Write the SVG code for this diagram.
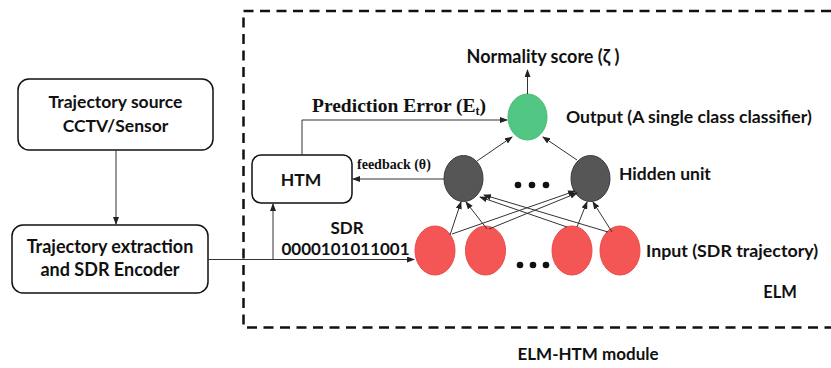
<svg xmlns="http://www.w3.org/2000/svg" width="831" height="368" viewBox="0 0 831 368">
<defs>
<marker id="ah" markerWidth="8" markerHeight="6" refX="7" refY="3" orient="auto" markerUnits="userSpaceOnUse">
<path d="M0,0 L8,3 L0,6 z" fill="#222"/>
</marker>
<style>
.box{fill:#fff;stroke:#111;stroke-width:1.5}
.lbl{font-family:Lato,"Liberation Sans",sans-serif;font-weight:bold;fill:#111}
.ser{font-family:"Liberation Serif","DejaVu Serif",serif;font-weight:bold;fill:#111}
.ln{fill:none;stroke:#333;stroke-width:1}
.arr{fill:none;stroke:#333;stroke-width:1;marker-end:url(#ah)}
.in{fill:#F45656;stroke:#ec4a4a;stroke-width:1}
.hid{fill:#565656;stroke:#3a3a3a;stroke-width:1}
.out{fill:#52C683;stroke:#48b877;stroke-width:1}
.dot{fill:#111}
</style>
</defs>
<rect width="831" height="368" fill="#fff"/>
<g id="module">
<path d="M831,11 H243.5 V327.5 H831" fill="none" stroke="#111" stroke-width="2.5" stroke-dasharray="10 6.5"/>
<text class="lbl" x="780" y="298" font-size="16.5" text-anchor="middle">ELM</text>
<text class="lbl" x="588" y="360" font-size="17" text-anchor="middle">ELM-HTM module</text>
</g>
<g id="source">
<rect class="box" x="18" y="79" width="195" height="71" rx="11"/>
<text class="lbl" x="115.5" y="108" font-size="17.5" text-anchor="middle">Trajectory source</text>
<text class="lbl" x="115.5" y="132" font-size="17.5" text-anchor="middle">CCTV/Sensor</text>
</g>
<g id="encoder">
<rect class="box" x="12" y="225" width="196" height="68" rx="11"/>
<text class="lbl" x="110" y="253" font-size="18" text-anchor="middle">Trajectory extraction</text>
<text class="lbl" x="110" y="276" font-size="18" text-anchor="middle">and SDR Encoder</text>
</g>
<g id="htm">
<rect class="box" x="252" y="155" width="100" height="48" rx="9"/>
<text class="lbl" x="301" y="186" font-size="17.5" text-anchor="middle">HTM</text>
</g>
<g id="output">
<ellipse class="out" cx="527.5" cy="117" rx="19.5" ry="23"/>
<text class="lbl" x="566" y="123" font-size="17.6">Output (A single class classifier)</text>
<text class="lbl" x="543" y="63" font-size="18" text-anchor="middle">Normality score (ζ )</text>
</g>
<g id="hidden">
<ellipse class="hid" cx="463.5" cy="178.5" rx="19.5" ry="23"/>
<ellipse class="hid" cx="590.5" cy="178.5" rx="19.5" ry="23"/>
<circle class="dot" cx="518" cy="185" r="3.3"/>
<circle class="dot" cx="532" cy="185" r="3.3"/>
<circle class="dot" cx="546" cy="185" r="3.3"/>
<text class="lbl" x="619" y="180" font-size="17.5">Hidden unit</text>
</g>
<g id="input">
<ellipse class="in" cx="435" cy="250.5" rx="20" ry="24.5"/>
<ellipse class="in" cx="485.5" cy="250.5" rx="20" ry="24.5"/>
<ellipse class="in" cx="572" cy="250.5" rx="20" ry="24.5"/>
<ellipse class="in" cx="620" cy="250.5" rx="20" ry="24.5"/>
<circle class="dot" cx="520" cy="265" r="3.3"/>
<circle class="dot" cx="533" cy="265" r="3.3"/>
<circle class="dot" cx="546" cy="265" r="3.3"/>
<text class="lbl" x="646" y="257" font-size="17.8">Input (SDR trajectory)</text>
</g>
<g id="connectors">
<path class="arr" d="M116,150 V224"/>
<path class="ln" d="M208,259.5 H273"/>
<path class="arr" d="M273,259.5 H414"/>
<path class="arr" d="M273,259.5 V204"/>
<path class="arr" d="M302,155 V120 H507"/>
<path class="arr" d="M444,179 H353"/>
<path class="arr" d="M527.5,94 V70"/>
<path class="arr" d="M477,161 L512,137"/>
<path class="arr" d="M577,160 L543,137"/>
<path class="arr" d="M450,235 L461,202"/>
<path class="arr" d="M452,234 L575,191"/>
<path class="arr" d="M487,229 L466,202"/>
<path class="arr" d="M489,229 L577,193"/>
<path class="arr" d="M567,227 L480,197"/>
<path class="arr" d="M577,227 L587,202"/>
<path class="arr" d="M608,232 L484,195"/>
<path class="arr" d="M612,232 L593,202"/>
<text class="ser" x="312" y="112" font-size="19.5">Prediction Error (E<tspan font-size="12" dy="3">t</tspan><tspan dy="-3">)</tspan></text>
<text class="ser" x="357" y="169" font-size="14">feedback (θ)</text>
<text class="lbl" x="347" y="234" font-size="17" text-anchor="middle">SDR</text>
<text class="lbl" x="345.5" y="255" font-size="17" text-anchor="middle">0000101011001</text>
</g>
</svg>
